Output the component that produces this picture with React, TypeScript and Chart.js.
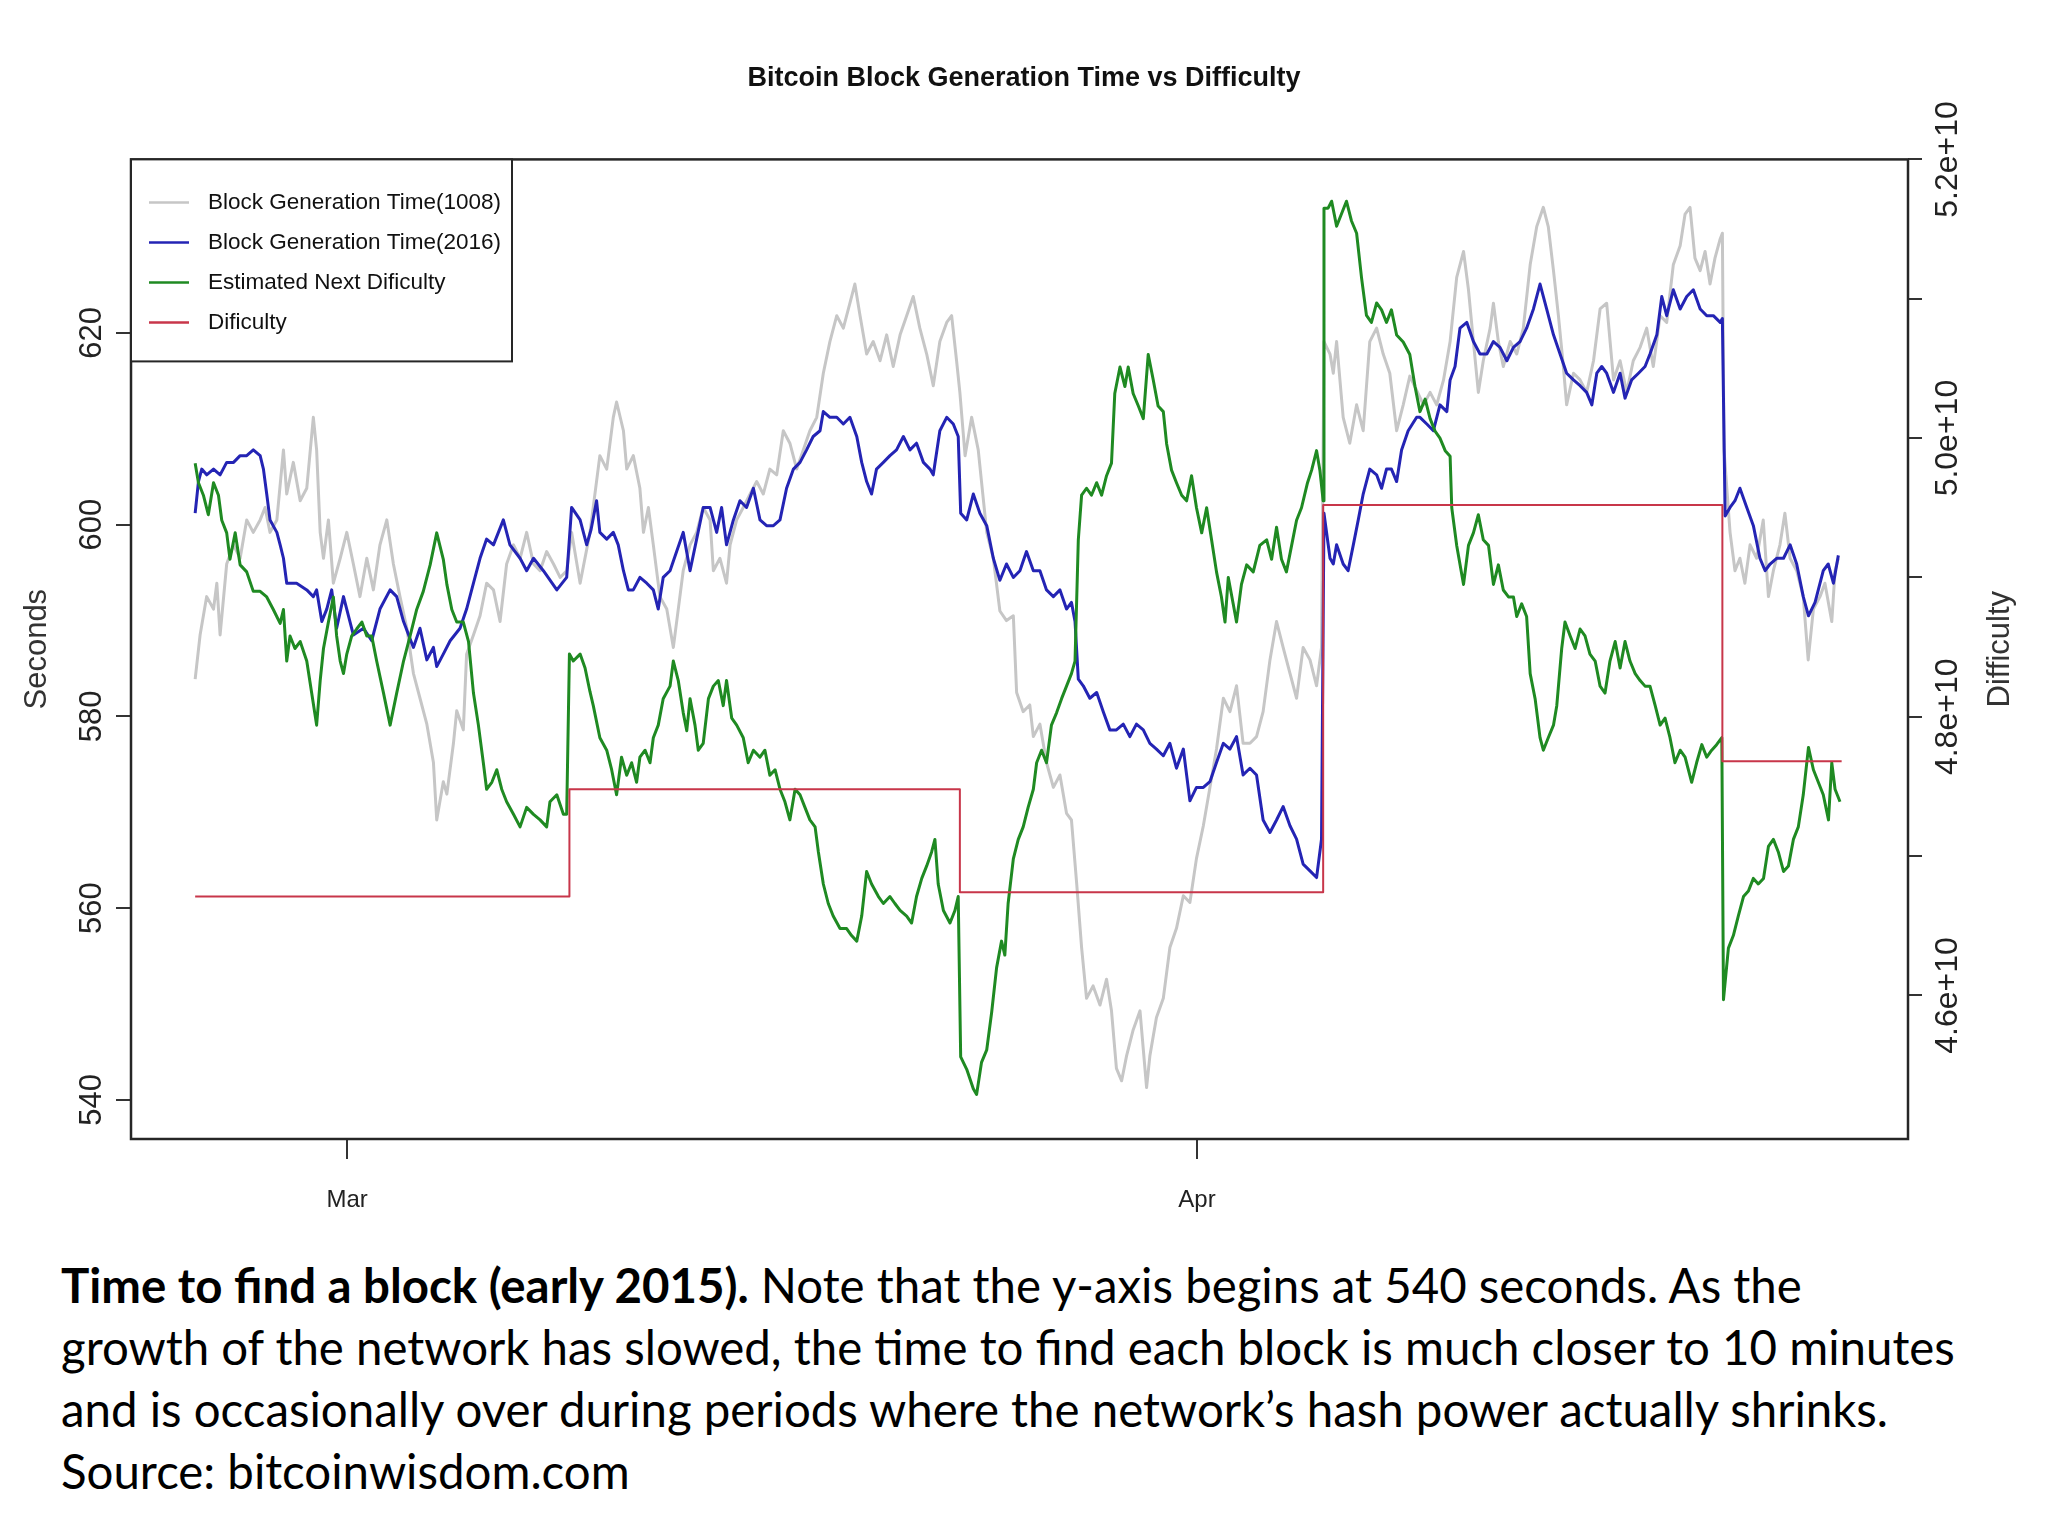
import { useEffect, useRef } from "react";
import { Chart, registerables, Plugin, ChartConfiguration } from "chart.js";

Chart.register(...registerables);

const FONT = "'Liberation Sans', Arial, Helvetica, sans-serif";
Chart.defaults.font.family = FONT;

const TITLE = "Bitcoin Block Generation Time vs Difficulty";
const SERIES_NAMES = [
  "Block Generation Time(1008)",
  "Block Generation Time(2016)",
  "Estimated Next Dificulty",
  "Dificulty",
];
const SERIES_COLORS = ["#c6c6c6", "#2424b4", "#1f8a22", "#c8364a"];

// x axis: days counted from 1 March 2015
const DATE_TICKS = [0, 31];
const DATE_TICK_LABELS = ["Mar", "Apr"];
const SECONDS_TICKS = [540, 560, 580, 600, 620];
const DIFFICULTY_TICKS = [4.6e10, 4.7e10, 4.8e10, 4.9e10, 5.0e10, 5.1e10, 5.2e10];
const DIFFICULTY_TICK_LABELS = ["4.6e+10", "", "4.8e+10", "", "5.0e+10", "", "5.2e+10"];

// [day, seconds]
const time1008: [number, number][] = [
  [-5.54, 583.9], [-5.36, 588.5], [-5.12, 592.5], [-4.87, 591.2], [-4.75, 593.9], [-4.63, 588.5],
  [-4.39, 595.9], [-4.14, 597.9], [-3.9, 596.5], [-3.66, 600.5], [-3.42, 599.2], [-3.17, 600.5],
  [-2.99, 601.8], [-2.81, 599.2], [-2.56, 600.5], [-2.32, 607.8], [-2.2, 603.2], [-1.96, 606.5],
  [-1.71, 602.5], [-1.47, 603.8], [-1.23, 611.2], [-1.11, 607.8], [-0.98, 599.2], [-0.86, 596.5],
  [-0.68, 600.5], [-0.5, 593.9], [-0.25, 596.5], [-0.01, 599.2], [0.23, 595.9], [0.47, 592.5],
  [0.72, 596.5], [0.96, 593.2], [1.2, 597.9], [1.45, 600.5], [1.69, 595.9], [1.93, 592.5],
  [2.18, 589.2], [2.42, 584.5], [2.66, 581.9], [2.91, 579.2], [3.15, 575.2], [3.27, 569.2],
  [3.51, 573.2], [3.64, 571.9], [3.88, 577.2], [4.0, 580.6], [4.24, 578.6], [4.36, 586.5],
  [4.61, 588.5], [4.85, 590.5], [5.09, 593.9], [5.34, 593.2], [5.58, 589.9], [5.82, 595.9],
  [6.07, 597.9], [6.31, 596.5], [6.55, 599.2], [6.8, 595.9], [7.04, 595.2], [7.28, 597.2],
  [7.53, 595.9], [7.77, 594.5], [8.01, 595.2], [8.19, 599.2], [8.5, 593.9], [8.86, 599.2],
  [9.22, 607.2], [9.47, 605.8], [9.71, 611.2], [9.83, 612.8], [10.08, 609.8], [10.2, 605.8],
  [10.44, 607.2], [10.68, 603.8], [10.81, 599.2], [10.99, 601.8], [11.17, 597.9], [11.41, 592.5],
  [11.66, 591.2], [11.9, 587.2], [12.08, 591.2], [12.26, 595.2], [12.51, 597.9], [12.75, 599.2],
  [12.99, 601.8], [13.24, 600.5], [13.36, 595.2], [13.6, 596.5], [13.84, 593.9], [13.97, 597.9],
  [14.21, 600.5], [14.45, 601.8], [14.7, 603.2], [14.94, 604.5], [15.18, 603.2], [15.42, 605.8],
  [15.67, 605.2], [15.91, 609.8], [16.15, 608.5], [16.4, 605.8], [16.64, 607.8], [16.88, 609.8],
  [17.13, 611.2], [17.37, 615.8], [17.61, 619.1], [17.86, 621.8], [18.1, 620.5], [18.34, 623.1],
  [18.52, 625.1], [18.71, 621.8], [18.95, 617.8], [19.19, 619.1], [19.44, 617.1], [19.68, 619.8],
  [19.92, 616.5], [20.17, 619.8], [20.41, 621.8], [20.65, 623.8], [20.89, 620.5], [21.14, 617.8],
  [21.38, 614.5], [21.62, 619.1], [21.87, 621.1], [22.05, 621.8], [22.23, 617.1], [22.35, 613.8],
  [22.54, 607.2], [22.78, 611.2], [23.02, 607.8], [23.33, 599.2], [23.57, 596.5], [23.81, 591.0],
  [24.05, 590.0], [24.3, 590.5], [24.42, 582.5], [24.66, 580.5], [24.9, 581.2], [25.03, 577.9],
  [25.27, 579.2], [25.51, 575.2], [25.76, 572.6], [26.0, 573.9], [26.24, 569.9], [26.42, 569.2],
  [26.61, 562.6], [26.79, 555.9], [26.97, 550.6], [27.21, 551.9], [27.46, 549.9], [27.7, 552.6],
  [27.88, 549.3], [28.06, 543.3], [28.25, 542.0], [28.43, 544.6], [28.67, 547.3], [28.92, 549.3],
  [29.16, 541.3], [29.28, 544.6], [29.52, 548.6], [29.77, 550.6], [30.01, 555.9], [30.25, 557.9],
  [30.5, 561.3], [30.74, 560.6], [30.98, 565.2], [31.23, 568.6], [31.47, 572.6], [31.71, 576.6],
  [31.96, 581.9], [32.2, 580.5], [32.44, 583.2], [32.68, 577.2], [32.93, 577.2], [33.17, 577.9],
  [33.41, 580.5], [33.66, 585.9], [33.9, 589.9], [34.14, 587.2], [34.39, 584.5], [34.63, 581.9],
  [34.87, 587.2], [35.12, 585.9], [35.36, 583.2], [35.54, 587.2], [35.63, 619.1], [35.85, 617.8],
  [35.97, 615.8], [36.09, 619.1], [36.33, 611.2], [36.57, 608.5], [36.82, 612.5], [37.06, 609.8],
  [37.3, 619.1], [37.55, 620.5], [37.79, 617.8], [38.03, 615.8], [38.28, 609.8], [38.52, 612.5],
  [38.76, 615.5], [39.01, 614.0], [39.26, 612.5], [39.5, 613.8], [39.74, 612.5], [39.99, 615.1],
  [40.23, 619.1], [40.47, 625.8], [40.72, 628.5], [40.9, 624.5], [41.08, 619.1], [41.26, 613.8],
  [41.44, 617.1], [41.69, 620.5], [41.81, 623.1], [41.99, 619.1], [42.17, 616.5], [42.42, 619.1],
  [42.66, 617.8], [42.9, 620.5], [43.15, 627.1], [43.39, 631.1], [43.63, 633.1], [43.81, 631.1],
  [44.0, 626.5], [44.18, 621.8], [44.36, 616.5], [44.48, 612.5], [44.73, 615.8], [44.97, 615.1],
  [45.21, 613.8], [45.46, 617.1], [45.7, 622.5], [45.94, 623.1], [46.19, 615.1], [46.43, 617.1],
  [46.67, 613.8], [46.91, 617.1], [47.16, 618.5], [47.4, 620.5], [47.64, 616.5], [47.89, 621.8],
  [48.13, 621.1], [48.37, 627.1], [48.62, 629.1], [48.8, 632.4], [48.98, 633.1], [49.16, 627.8],
  [49.35, 626.5], [49.53, 628.5], [49.71, 625.1], [49.89, 627.8], [50.08, 629.8], [50.16, 630.4],
  [50.22, 607.8], [50.44, 599.2], [50.62, 595.2], [50.8, 596.5], [50.98, 593.9], [51.17, 597.9],
  [51.41, 596.5], [51.65, 600.5], [51.84, 592.5], [52.02, 595.2], [52.26, 597.9], [52.44, 601.2],
  [52.63, 596.5], [52.87, 595.2], [53.11, 592.5], [53.29, 585.9], [53.48, 591.2], [53.72, 592.5],
  [53.9, 593.9], [54.15, 589.9], [54.27, 595.2], [54.39, 596.5],
];

// [day, seconds]
const time2016: [number, number][] = [
  [-5.54, 601.2], [-5.42, 604.5], [-5.3, 605.8], [-5.12, 605.2], [-4.87, 605.8], [-4.63, 605.2],
  [-4.39, 606.5], [-4.14, 606.5], [-3.9, 607.2], [-3.66, 607.2], [-3.42, 607.8], [-3.17, 607.2],
  [-3.05, 605.8], [-2.93, 603.2], [-2.81, 600.5], [-2.56, 599.2], [-2.44, 597.9], [-2.32, 596.5],
  [-2.2, 593.9], [-1.84, 593.9], [-1.47, 593.2], [-1.23, 592.5], [-1.11, 593.2], [-0.92, 589.9],
  [-0.74, 591.2], [-0.56, 593.2], [-0.38, 589.2], [-0.13, 592.5], [0.23, 588.5], [0.6, 589.2],
  [0.9, 587.9], [1.2, 591.2], [1.57, 593.2], [1.81, 592.5], [2.06, 589.9], [2.42, 587.2],
  [2.66, 589.2], [2.91, 585.9], [3.15, 587.2], [3.27, 585.2], [3.51, 586.5], [3.76, 587.9],
  [4.12, 589.2], [4.36, 591.2], [4.61, 593.9], [4.85, 596.5], [5.09, 598.5], [5.34, 597.9],
  [5.7, 600.5], [5.94, 597.9], [6.31, 596.5], [6.55, 595.2], [6.8, 596.5], [7.16, 595.2],
  [7.65, 593.2], [8.01, 594.5], [8.19, 601.8], [8.5, 600.5], [8.74, 597.9], [8.9, 599.5],
  [9.1, 602.5], [9.22, 599.2], [9.47, 598.5], [9.71, 599.2], [9.89, 597.9], [10.08, 595.2],
  [10.26, 593.2], [10.44, 593.2], [10.68, 594.5], [10.93, 593.9], [11.17, 593.2], [11.35, 591.2],
  [11.53, 594.5], [11.78, 595.2], [12.02, 597.2], [12.26, 599.2], [12.51, 595.2], [12.75, 598.5],
  [12.99, 601.8], [13.24, 601.8], [13.48, 599.2], [13.66, 601.8], [13.84, 597.9], [14.09, 600.5],
  [14.33, 602.5], [14.57, 601.8], [14.82, 603.8], [15.06, 600.5], [15.3, 599.9], [15.55, 599.9],
  [15.79, 600.5], [16.03, 603.8], [16.28, 605.8], [16.52, 606.5], [16.76, 607.8], [17.0, 609.2],
  [17.25, 609.8], [17.37, 611.8], [17.61, 611.2], [17.86, 611.2], [18.1, 610.5], [18.34, 611.2],
  [18.59, 609.2], [18.77, 606.5], [18.95, 604.5], [19.13, 603.2], [19.31, 605.8], [19.56, 606.5],
  [19.8, 607.2], [20.04, 607.8], [20.29, 609.2], [20.53, 607.8], [20.77, 608.5], [21.02, 606.5],
  [21.26, 605.8], [21.38, 605.2], [21.62, 609.8], [21.87, 611.2], [22.11, 610.5], [22.29, 609.2],
  [22.38, 601.2], [22.6, 600.5], [22.84, 603.2], [23.08, 601.2], [23.33, 599.9], [23.57, 596.5],
  [23.81, 594.2], [24.05, 595.9], [24.3, 594.5], [24.54, 595.2], [24.78, 597.2], [25.03, 595.2],
  [25.27, 595.2], [25.51, 593.2], [25.76, 592.5], [26.0, 593.2], [26.24, 591.2], [26.42, 591.9],
  [26.55, 589.9], [26.67, 583.9], [26.85, 583.2], [27.09, 581.9], [27.34, 582.5], [27.58, 580.5],
  [27.82, 578.6], [28.06, 578.6], [28.31, 579.2], [28.55, 577.9], [28.79, 579.2], [29.04, 578.6],
  [29.28, 577.2], [29.52, 576.6], [29.77, 575.9], [30.01, 577.2], [30.25, 574.6], [30.5, 576.6],
  [30.74, 571.2], [30.98, 572.6], [31.23, 572.6], [31.47, 573.2], [31.71, 575.2], [31.96, 577.2],
  [32.2, 576.6], [32.44, 577.9], [32.68, 573.9], [32.93, 574.6], [33.17, 573.9], [33.41, 569.2],
  [33.66, 567.9], [33.9, 569.2], [34.14, 570.6], [34.39, 568.6], [34.63, 567.2], [34.87, 564.6],
  [35.12, 563.9], [35.36, 563.2], [35.54, 567.2], [35.63, 601.2], [35.85, 596.5], [35.97, 595.9],
  [36.09, 597.9], [36.33, 595.9], [36.51, 595.2], [36.7, 597.9], [36.88, 600.5], [37.06, 603.2],
  [37.3, 605.8], [37.55, 605.2], [37.73, 603.8], [37.91, 605.8], [38.09, 605.8], [38.28, 604.5],
  [38.46, 607.8], [38.7, 609.8], [39.01, 611.2], [39.13, 611.2], [39.38, 610.5], [39.62, 609.8],
  [39.86, 612.5], [40.11, 611.8], [40.23, 615.1], [40.41, 616.5], [40.59, 620.5], [40.84, 621.1],
  [41.08, 619.1], [41.32, 617.8], [41.57, 617.8], [41.81, 619.1], [42.05, 618.5], [42.3, 617.1],
  [42.54, 618.5], [42.78, 619.1], [43.02, 620.5], [43.27, 622.5], [43.51, 625.1], [43.75, 622.5],
  [44.0, 619.8], [44.24, 617.8], [44.48, 615.8], [44.73, 615.1], [44.97, 614.5], [45.21, 613.8],
  [45.4, 612.5], [45.58, 615.8], [45.76, 616.5], [45.94, 615.8], [46.19, 613.8], [46.43, 615.8],
  [46.61, 613.2], [46.85, 615.1], [47.1, 615.8], [47.34, 616.5], [47.52, 617.8], [47.77, 619.8],
  [47.95, 623.8], [48.13, 621.8], [48.37, 624.5], [48.62, 622.5], [48.86, 623.8], [49.1, 624.5],
  [49.35, 622.5], [49.59, 621.8], [49.83, 621.8], [50.08, 621.1], [50.16, 621.5], [50.26, 600.9],
  [50.44, 601.8], [50.62, 602.5], [50.8, 603.8], [51.05, 601.8], [51.29, 599.9], [51.53, 596.5],
  [51.72, 595.2], [51.9, 595.9], [52.14, 596.5], [52.39, 596.5], [52.63, 597.9], [52.87, 595.9],
  [53.11, 592.5], [53.3, 590.5], [53.54, 591.9], [53.84, 595.2], [54.02, 595.9], [54.21, 593.9],
  [54.39, 596.8],
];

// [day, difficulty]
const nextDifficulty: [number, number][] = [
  [-5.54, 4.982e10], [-5.42, 4.968e10], [-5.24, 4.959e10], [-5.06, 4.945e10], [-4.87, 4.968e10],
  [-4.69, 4.959e10], [-4.57, 4.941e10], [-4.39, 4.932e10], [-4.27, 4.913e10], [-4.08, 4.932e10],
  [-3.9, 4.909e10], [-3.66, 4.904e10], [-3.42, 4.89e10], [-3.17, 4.89e10], [-2.93, 4.886e10],
  [-2.69, 4.877e10], [-2.44, 4.867e10], [-2.32, 4.877e10], [-2.2, 4.84e10], [-2.08, 4.858e10],
  [-1.9, 4.849e10], [-1.71, 4.854e10], [-1.47, 4.84e10], [-1.29, 4.817e10], [-1.11, 4.794e10],
  [-0.98, 4.826e10], [-0.86, 4.849e10], [-0.68, 4.868e10], [-0.5, 4.886e10], [-0.38, 4.858e10],
  [-0.25, 4.84e10], [-0.13, 4.831e10], [-0.01, 4.845e10], [0.17, 4.858e10], [0.35, 4.863e10],
  [0.54, 4.868e10], [0.72, 4.858e10], [0.9, 4.858e10], [1.08, 4.84e10], [1.33, 4.817e10],
  [1.57, 4.794e10], [1.81, 4.817e10], [2.06, 4.84e10], [2.3, 4.858e10], [2.54, 4.877e10],
  [2.78, 4.89e10], [3.03, 4.909e10], [3.27, 4.932e10], [3.51, 4.913e10], [3.64, 4.895e10],
  [3.82, 4.877e10], [4.0, 4.868e10], [4.24, 4.868e10], [4.43, 4.854e10], [4.61, 4.817e10],
  [4.79, 4.794e10], [4.97, 4.767e10], [5.09, 4.748e10], [5.28, 4.753e10], [5.46, 4.762e10],
  [5.64, 4.748e10], [5.82, 4.739e10], [6.07, 4.73e10], [6.31, 4.721e10], [6.55, 4.735e10],
  [6.8, 4.73e10], [7.04, 4.726e10], [7.28, 4.721e10], [7.4, 4.739e10], [7.65, 4.744e10],
  [7.89, 4.73e10], [8.01, 4.73e10], [8.11, 4.845e10], [8.25, 4.84e10], [8.5, 4.845e10],
  [8.68, 4.835e10], [8.86, 4.818e10], [8.98, 4.808e10], [9.22, 4.785e10], [9.47, 4.776e10],
  [9.65, 4.762e10], [9.83, 4.744e10], [10.01, 4.771e10], [10.2, 4.758e10], [10.38, 4.767e10],
  [10.56, 4.753e10], [10.68, 4.771e10], [10.87, 4.776e10], [11.05, 4.767e10], [11.17, 4.785e10],
  [11.35, 4.794e10], [11.53, 4.813e10], [11.78, 4.822e10], [11.9, 4.84e10], [12.08, 4.826e10],
  [12.26, 4.803e10], [12.39, 4.79e10], [12.51, 4.813e10], [12.69, 4.794e10], [12.81, 4.776e10],
  [12.99, 4.781e10], [13.18, 4.813e10], [13.36, 4.822e10], [13.54, 4.826e10], [13.72, 4.808e10],
  [13.84, 4.826e10], [14.03, 4.799e10], [14.21, 4.794e10], [14.45, 4.785e10], [14.63, 4.767e10],
  [14.82, 4.776e10], [15.06, 4.771e10], [15.24, 4.776e10], [15.42, 4.758e10], [15.61, 4.762e10],
  [15.79, 4.748e10], [15.97, 4.739e10], [16.15, 4.726e10], [16.34, 4.748e10], [16.52, 4.744e10],
  [16.7, 4.735e10], [16.88, 4.726e10], [17.07, 4.721e10], [17.19, 4.703e10], [17.37, 4.68e10],
  [17.55, 4.666e10], [17.73, 4.657e10], [17.98, 4.648e10], [18.22, 4.648e10], [18.4, 4.643e10],
  [18.59, 4.639e10], [18.77, 4.657e10], [18.95, 4.689e10], [19.13, 4.68e10], [19.38, 4.671e10],
  [19.56, 4.666e10], [19.8, 4.671e10], [19.98, 4.666e10], [20.17, 4.661e10], [20.41, 4.657e10],
  [20.59, 4.652e10], [20.77, 4.671e10], [20.96, 4.684e10], [21.14, 4.693e10], [21.32, 4.703e10],
  [21.44, 4.712e10], [21.56, 4.68e10], [21.75, 4.661e10], [21.99, 4.652e10], [22.17, 4.661e10],
  [22.29, 4.671e10], [22.38, 4.556e10], [22.6, 4.547e10], [22.84, 4.533e10], [22.96, 4.529e10],
  [23.14, 4.552e10], [23.33, 4.561e10], [23.51, 4.588e10], [23.69, 4.62e10], [23.87, 4.639e10],
  [23.99, 4.629e10], [24.11, 4.666e10], [24.3, 4.698e10], [24.48, 4.712e10], [24.66, 4.721e10],
  [24.84, 4.735e10], [25.03, 4.748e10], [25.15, 4.767e10], [25.33, 4.776e10], [25.51, 4.767e10],
  [25.69, 4.794e10], [25.88, 4.803e10], [26.06, 4.813e10], [26.24, 4.822e10], [26.42, 4.831e10],
  [26.55, 4.84e10], [26.67, 4.927e10], [26.79, 4.959e10], [26.97, 4.964e10], [27.15, 4.959e10],
  [27.34, 4.968e10], [27.52, 4.959e10], [27.7, 4.973e10], [27.88, 4.982e10], [28.0, 5.032e10],
  [28.19, 5.051e10], [28.37, 5.037e10], [28.49, 5.051e10], [28.67, 5.032e10], [28.86, 5.023e10],
  [29.04, 5.014e10], [29.22, 5.06e10], [29.4, 5.042e10], [29.58, 5.023e10], [29.77, 5.019e10],
  [29.89, 4.996e10], [30.07, 4.977e10], [30.25, 4.968e10], [30.44, 4.959e10], [30.62, 4.955e10],
  [30.8, 4.973e10], [30.98, 4.95e10], [31.17, 4.932e10], [31.35, 4.95e10], [31.53, 4.927e10],
  [31.71, 4.904e10], [31.89, 4.886e10], [32.02, 4.868e10], [32.14, 4.9e10], [32.32, 4.881e10],
  [32.44, 4.868e10], [32.62, 4.895e10], [32.81, 4.909e10], [33.05, 4.904e10], [33.29, 4.923e10],
  [33.54, 4.927e10], [33.72, 4.913e10], [33.9, 4.936e10], [34.08, 4.913e10], [34.26, 4.904e10],
  [34.45, 4.923e10], [34.63, 4.941e10], [34.81, 4.95e10], [35.03, 4.968e10], [35.18, 4.977e10],
  [35.36, 4.991e10], [35.48, 4.977e10], [35.6, 4.955e10], [35.63, 5.165e10], [35.78, 5.165e10],
  [35.91, 5.17e10], [36.09, 5.152e10], [36.27, 5.161e10], [36.45, 5.17e10], [36.63, 5.156e10],
  [36.82, 5.147e10], [37.0, 5.115e10], [37.18, 5.088e10], [37.36, 5.083e10], [37.55, 5.097e10],
  [37.73, 5.092e10], [37.91, 5.083e10], [38.09, 5.092e10], [38.28, 5.074e10], [38.52, 5.069e10],
  [38.76, 5.06e10], [38.95, 5.037e10], [39.13, 5.019e10], [39.32, 5.028e10], [39.5, 5.014e10],
  [39.68, 5.005e10], [39.86, 5.0e10], [40.05, 4.991e10], [40.23, 4.987e10], [40.29, 4.95e10],
  [40.47, 4.923e10], [40.72, 4.895e10], [40.9, 4.923e10], [41.08, 4.932e10], [41.26, 4.945e10],
  [41.44, 4.927e10], [41.63, 4.923e10], [41.81, 4.895e10], [41.99, 4.909e10], [42.17, 4.891e10],
  [42.36, 4.886e10], [42.54, 4.886e10], [42.66, 4.872e10], [42.84, 4.881e10], [43.02, 4.872e10],
  [43.15, 4.831e10], [43.33, 4.813e10], [43.51, 4.785e10], [43.63, 4.776e10], [43.81, 4.785e10],
  [44.0, 4.794e10], [44.12, 4.808e10], [44.3, 4.849e10], [44.42, 4.868e10], [44.61, 4.858e10],
  [44.79, 4.849e10], [44.97, 4.863e10], [45.15, 4.858e10], [45.33, 4.845e10], [45.52, 4.84e10],
  [45.7, 4.822e10], [45.88, 4.817e10], [46.06, 4.84e10], [46.25, 4.854e10], [46.43, 4.835e10],
  [46.61, 4.854e10], [46.79, 4.84e10], [46.98, 4.831e10], [47.16, 4.826e10], [47.34, 4.822e10],
  [47.52, 4.822e10], [47.71, 4.808e10], [47.89, 4.794e10], [48.07, 4.799e10], [48.25, 4.785e10],
  [48.43, 4.767e10], [48.62, 4.776e10], [48.8, 4.771e10], [49.04, 4.753e10], [49.22, 4.767e10],
  [49.41, 4.78e10], [49.59, 4.771e10], [49.77, 4.776e10], [49.95, 4.78e10], [50.14, 4.785e10],
  [50.2, 4.597e10], [50.38, 4.634e10], [50.56, 4.643e10], [50.74, 4.657e10], [50.93, 4.671e10],
  [51.11, 4.675e10], [51.29, 4.684e10], [51.47, 4.68e10], [51.66, 4.684e10], [51.84, 4.707e10],
  [52.02, 4.712e10], [52.2, 4.703e10], [52.39, 4.689e10], [52.57, 4.693e10], [52.75, 4.712e10],
  [52.93, 4.721e10], [53.11, 4.744e10], [53.3, 4.778e10], [53.48, 4.762e10], [53.66, 4.753e10],
  [53.84, 4.744e10], [54.03, 4.726e10], [54.15, 4.767e10], [54.27, 4.748e10], [54.45, 4.739e10],
];

// [day, difficulty] - each value holds until the next point
const difficulty: [number, number][] = [
  [-5.54, 4.671e10], [8.11, 4.748e10], [22.35, 4.674e10], [35.6, 4.952e10], [50.16, 4.768e10], [54.51, 4.768e10],
];

const toPoints = (rows: [number, number][]) => rows.map(([x, y]) => ({ x, y }));

const insetLegendAndFrame: Plugin<"line"> = {
  id: "insetLegendAndFrame",
  afterDraw(chart) {
    const { ctx, chartArea: a } = chart;
    ctx.save();
    ctx.strokeStyle = "#262626";
    ctx.lineWidth = 2.5;
    ctx.strokeRect(a.left, a.top, a.right - a.left, a.bottom - a.top);

    // legend box in the top left corner of the plot
    ctx.fillStyle = "#ffffff";
    ctx.fillRect(a.left, a.top, 381, 202);
    ctx.lineWidth = 2;
    ctx.strokeRect(a.left, a.top, 381, 202);
    ctx.font = `22.5px ${FONT}`;
    ctx.textBaseline = "middle";
    ctx.textAlign = "left";
    chart.data.datasets.forEach((ds, i) => {
      const y = a.top + 43 + i * 40;
      ctx.strokeStyle = ds.borderColor as string;
      ctx.lineWidth = 2.5;
      ctx.beginPath();
      ctx.moveTo(a.left + 18, y);
      ctx.lineTo(a.left + 58, y);
      ctx.stroke();
      ctx.fillStyle = "#111";
      ctx.fillText(ds.label as string, a.left + 77, y);
    });

    // right axis title, read bottom to top
    ctx.translate(1992, (a.top + a.bottom) / 2);
    ctx.rotate(-Math.PI / 2);
    ctx.textAlign = "center";
    ctx.font = `31px ${FONT}`;
    ctx.fillStyle = "#333";
    ctx.fillText("Difficulty", 0, 0);
    ctx.restore();
  },
};

export default function App() {
  const canvasRef = useRef<HTMLCanvasElement | null>(null);

  useEffect(() => {
    if (!canvasRef.current) return;
    const lineStyle = { pointRadius: 0, borderWidth: 3, borderJoinStyle: "round" as const, tension: 0 };
    const config: ChartConfiguration<"line"> = {
      type: "line",
      data: {
        datasets: [
          { ...lineStyle, label: SERIES_NAMES[0], data: toPoints(time1008), borderColor: SERIES_COLORS[0], yAxisID: "y", order: 4 },
          { ...lineStyle, label: SERIES_NAMES[1], data: toPoints(time2016), borderColor: SERIES_COLORS[1], yAxisID: "y", order: 3 },
          { ...lineStyle, label: SERIES_NAMES[2], data: toPoints(nextDifficulty), borderColor: SERIES_COLORS[2], yAxisID: "yd", order: 2 },
          { ...lineStyle, label: SERIES_NAMES[3], data: toPoints(difficulty), borderColor: SERIES_COLORS[3], borderWidth: 2, stepped: "before", yAxisID: "yd", order: 1 },
        ],
      },
      options: {
        responsive: false,
        animation: false,
        events: [],
        layout: { padding: 0 },
        plugins: {
          legend: { display: false },
          tooltip: { enabled: false },
          title: {
            display: true,
            text: TITLE,
            color: "#111",
            font: { size: 27, weight: "bold" },
            padding: { top: 54, bottom: 65 },
          },
        },
        scales: {
          x: {
            type: "linear",
            min: -7.88,
            max: 56.93,
            bounds: "data",
            afterBuildTicks: (s) => {
              s.ticks = DATE_TICKS.map((value) => ({ value }));
            },
            afterFit: (s) => {
              s.height = 109;
            },
            border: { display: false },
            grid: { drawOnChartArea: false, drawTicks: true, tickLength: 20, color: "#333", lineWidth: 2 },
            ticks: {
              autoSkip: false,
              maxRotation: 0,
              padding: 27,
              color: "#222",
              font: { size: 24 },
              callback: (_v, i) => DATE_TICK_LABELS[i],
            },
          },
          y: {
            type: "linear",
            position: "left",
            min: 535.93,
            max: 638.1,
            bounds: "data",
            afterBuildTicks: (s) => {
              s.ticks = SECONDS_TICKS.map((value) => ({ value }));
            },
            afterFit: (s) => {
              s.width = 123;
            },
            border: { display: false },
            grid: { drawOnChartArea: false, drawTicks: true, tickLength: 15, color: "#333", lineWidth: 2 },
            title: {
              display: true,
              text: "Seconds",
              color: "#333",
              font: { size: 31 },
              padding: { top: 11, bottom: 0 },
            },
            ticks: {
              autoSkip: false,
              minRotation: 90,
              maxRotation: 90,
              crossAlign: "center",
              padding: -2,
              color: "#222",
              font: { size: 31 },
              callback: (v) => String(v),
            },
          },
          yd: {
            type: "linear",
            position: "right",
            min: 4.497e10,
            max: 5.2e10,
            bounds: "data",
            afterBuildTicks: (s) => {
              s.ticks = DIFFICULTY_TICKS.map((value) => ({ value }));
            },
            afterFit: (s) => {
              s.width = 132;
            },
            border: { display: false },
            grid: { drawOnChartArea: false, drawTicks: true, tickLength: 14, color: "#333", lineWidth: 2 },
            ticks: {
              autoSkip: false,
              minRotation: 90,
              maxRotation: 90,
              crossAlign: "center",
              padding: -32,
              color: "#222",
              font: { size: 32 },
              callback: (_v, i) => DIFFICULTY_TICK_LABELS[i],
            },
          },
        },
      },
      plugins: [insetLegendAndFrame],
    };
    const chart = new Chart(canvasRef.current, config);
    return () => chart.destroy();
  }, []);

  return (
    <div>
      <canvas ref={canvasRef} width={2032} height={1240} style={{ display: "block" }} />
      <div
        style={{
          margin: "6px 0 0 53px",
          fontFamily: "Lato, 'Open Sans', sans-serif",
          fontSize: 47.4,
          lineHeight: "62px",
          color: "#000",
          whiteSpace: "nowrap",
        }}
      >
        <b>Time to find a block (early 2015).</b> Note that the y-axis begins at 540 seconds. As the
        <br />
        growth of the network has slowed, the time to find each block is much closer to 10 minutes
        <br />
        and is occasionally over during periods where the network’s hash power actually shrinks.
        <br />
        Source: bitcoinwisdom.com
      </div>
    </div>
  );
}
